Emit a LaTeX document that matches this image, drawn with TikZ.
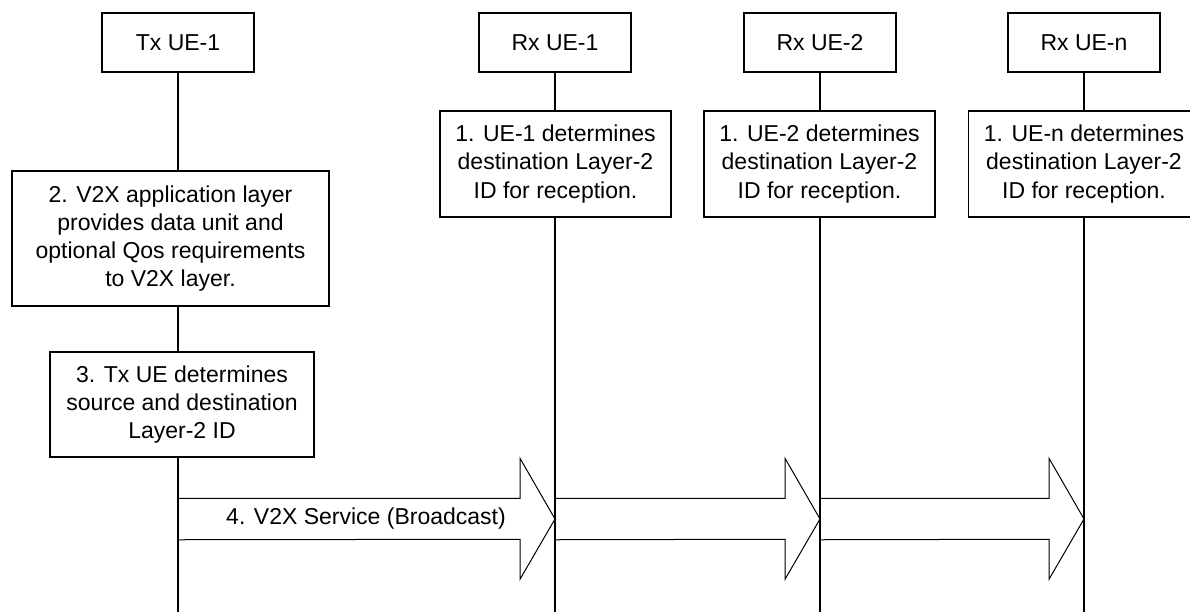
\documentclass[tikz,border=0pt]{standalone}
\usepackage{fontspec}
\setmainfont{Liberation Sans}
\usetikzlibrary{calc}
\begin{document}
\begin{tikzpicture}[
    x=0.5pt, y=-0.5pt, line width=0.8pt,
    font=\fontsize{11.5}{14.15}\selectfont,
    ue/.style={draw, minimum width=76pt, minimum height=29.5pt, inner sep=0pt},
    act/.style={draw, align=center, inner sep=0pt},
    bcast/.style={line width=0.5pt, line join=miter},
]
\useasboundingbox (0,0) rectangle (1190,612);
\coordinate (bot) at (0,612);
\coordinate (mid) at (0,519);
\node[ue] (tx)  at (178,42.5)  {Tx UE-1};
\node[ue] (rx1) at (555,42.5)  {Rx UE-1};
\node[ue] (rx2) at (820,42.5)  {Rx UE-2};
\node[ue] (rxn) at (1084,42.5) {Rx UE-n};
\node[act, minimum width=115.5pt, minimum height=53pt] (r1) at (555.5,164) {1. UE-1 determines\\destination Layer-2\\ID for reception.};
\node[act, minimum width=115.5pt, minimum height=53pt] (r2) at (819.5,164) {1. UE-2 determines\\destination Layer-2\\ID for reception.};
\node[act, minimum width=115.5pt, minimum height=53pt] (rn) at (1084,164) {1. UE-n determines\\destination Layer-2\\ID for reception.};
\node[act, minimum width=158.5pt, minimum height=67.5pt] (s2) at (170.5,238.5) {2. V2X application layer\\provides data unit and\\optional Qos requirements\\to V2X layer.};
\node[act, minimum width=132pt, minimum height=52.5pt] (s3) at (182,404.5) {3. Tx UE determines\\source and destination\\Layer-2 ID};
\draw (tx) -- (tx |- s2.north) (tx |- s2.south) -- (tx |- s3.north) (tx |- s3.south) -- (tx |- bot);
\foreach \hd/\bx in {rx1/r1, rx2/r2, rxn/rn}
    \draw (\hd) -- (\hd |- \bx.north) (\hd |- \bx.south) -- (\hd |- bot);
\foreach \a/\b in {tx/rx1, rx1/rx2, rx2/rxn}
    \draw[bcast] ($(\a |- mid)+(0,-20.75)$) -- ($(\b |- mid)+(-35,-20.75)$) -- ++(0,-40)
        -- (\b |- mid) -- ++(-35,60.25) -- ++(0,-40) -- ($(\a |- mid)+(0,20.75)$);
\node (svc) at (366,519) {4. V2X Service (Broadcast)};
\end{tikzpicture}
\end{document}
